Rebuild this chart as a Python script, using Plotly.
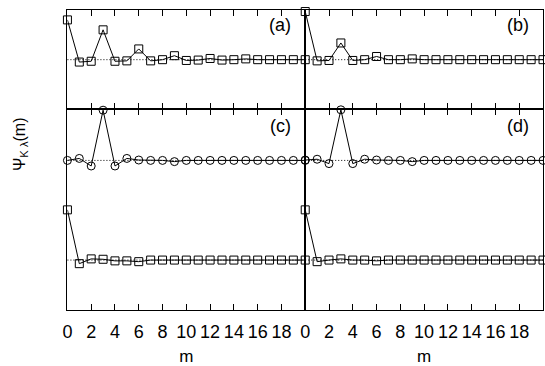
import plotly.graph_objects as go

m = list(range(21))
tick_vals = list(range(0, 20, 2))
tick_text = [str(v) for v in tick_vals]

# panel (a): squares
a_sq = [1.0, -0.06, -0.04, 0.75, -0.04, -0.03, 0.27, -0.03, 0.0, 0.1, -0.02,
        -0.01, 0.03, -0.01, 0.0, 0.02, 0.0, 0.0, 0.0, 0.0, 0.0]
# panel (b): squares
b_sq = [1.21, -0.03, -0.02, 0.42, -0.02, 0.0, 0.08, 0.0, 0.0, 0.02, 0.0,
        0.0, 0.0, 0.0, 0.0, 0.0, 0.0, 0.0, 0.0, 0.0, 0.0]
# panel (c): circles (upper) and squares (lower)
c_ci = [0.0, 0.05, -0.14, 1.26, -0.14, 0.05, 0.01, 0.0, 0.0, -0.03, 0.0,
        0.0, 0.0, 0.0, 0.0, 0.0, 0.0, 0.0, 0.0, 0.0, 0.0]
c_sq = [1.26, -0.09, 0.03, 0.02, -0.02, -0.02, -0.04, 0.0, 0.0, 0.0, 0.0,
        0.0, 0.0, 0.0, 0.0, 0.0, 0.0, 0.0, 0.0, 0.0, 0.0]
# panel (d)
d_ci = [0.01, 0.03, -0.08, 1.27, -0.08, 0.03, 0.01, 0.0, 0.0, -0.03, 0.0,
        0.0, 0.0, 0.0, 0.0, 0.0, 0.0, 0.0, 0.0, 0.0, 0.0]
d_sq = [1.26, -0.04, 0.0, 0.03, 0.0, 0.0, -0.02, 0.0, 0.0, 0.0, 0.0,
        0.0, 0.0, 0.0, 0.0, 0.0, 0.0, 0.0, 0.0, 0.0, 0.0]

OFFSET = 2.5  # vertical shift of circle curves in lower panels

W, H = 545, 366
FONT = "Liberation Sans, Arial, sans-serif"

def px_x(p):
    return p / W

def px_y(p):
    return 1 - p / H

xl = [px_x(63), px_x(303)]
xr = [px_x(303), px_x(543)]
yt = [px_y(110), px_y(10)]
yb = [px_y(312), px_y(110)]

fig = go.Figure()

def add(xa, ya, y, sym):
    fig.add_trace(go.Scatter(
        x=m, y=y, xaxis=xa, yaxis=ya, mode="lines+markers",
        line=dict(color="black", width=1),
        marker=dict(symbol=sym, size=8, color="black", line=dict(width=1)),
        cliponaxis=False, showlegend=False, hoverinfo="skip"))

add("x", "y", a_sq, "square-open")
add("x2", "y2", b_sq, "square-open")
add("x3", "y3", [v + OFFSET for v in c_ci], "circle-open")
add("x3", "y3", c_sq, "square-open")
add("x4", "y4", [v + OFFSET for v in d_ci], "circle-open")
add("x4", "y4", d_sq, "square-open")

# dotted reference lines
def hline(xa, ya, yv):
    fig.add_shape(type="line", xref=xa + " domain", yref=ya, x0=0, x1=1, y0=yv, y1=yv,
                  line=dict(color="black", width=1, dash="1px,2px"), layer="below")

hline("x", "y", 0)
hline("x2", "y2", 0)
hline("x3", "y3", 0)
hline("x3", "y3", OFFSET)
hline("x4", "y4", 0)
hline("x4", "y4", OFFSET)

xcommon = dict(range=[0, 20], showline=True, linecolor="black", linewidth=1, mirror="ticks",
               ticks="inside", ticklen=6, tickwidth=1, tickcolor="black",
               tickvals=tick_vals, ticktext=tick_text, showgrid=False, zeroline=False,
               ticklabelstandoff=5,
               tickfont=dict(family=FONT, size=18, color="black"))
ycommon = dict(showline=True, linecolor="black", linewidth=1, mirror=True,
               ticks="", showticklabels=False, showgrid=False, zeroline=False)
xtitle = dict(text="m", font=dict(family=FONT, size=17, color="black"), standoff=12)

fig.update_layout(
    width=W, height=H, margin=dict(l=0, r=0, t=0, b=0),
    paper_bgcolor="white", plot_bgcolor="white",
    xaxis=dict(domain=xl, anchor="y", showticklabels=False, **xcommon),
    xaxis2=dict(domain=xr, anchor="y2", showticklabels=False, **xcommon),
    xaxis3=dict(domain=xl, anchor="y3", title=xtitle, **xcommon),
    xaxis4=dict(domain=xr, anchor="y4", title=xtitle, **xcommon),
    yaxis=dict(domain=yt, anchor="x", range=[-1.25, 1.25], **ycommon),
    yaxis2=dict(domain=yt, anchor="x2", range=[-1.25, 1.25], **ycommon),
    yaxis3=dict(domain=yb, anchor="x3", range=[-1.26, 3.78], **ycommon),
    yaxis4=dict(domain=yb, anchor="x4", range=[-1.26, 3.78], **ycommon),
)

labels = [("(a)", 278, 25), ("(b)", 518, 25), ("(c)", 278, 127), ("(d)", 518, 127)]
for t, x, y in labels:
    fig.add_annotation(text=t, x=px_x(x), y=px_y(y), xref="paper", yref="paper",
                       showarrow=False, xanchor="center", yanchor="middle",
                       font=dict(family=FONT, size=18, color="black"))

fig.add_annotation(text="Ψ<sub>K λ</sub>(m)", x=px_x(15), y=px_y(145), xref="paper", yref="paper",
                   showarrow=False, textangle=-90, xanchor="center", yanchor="middle",
                   font=dict(family=FONT, size=16, color="black"))

fig.write_html("out.html")
